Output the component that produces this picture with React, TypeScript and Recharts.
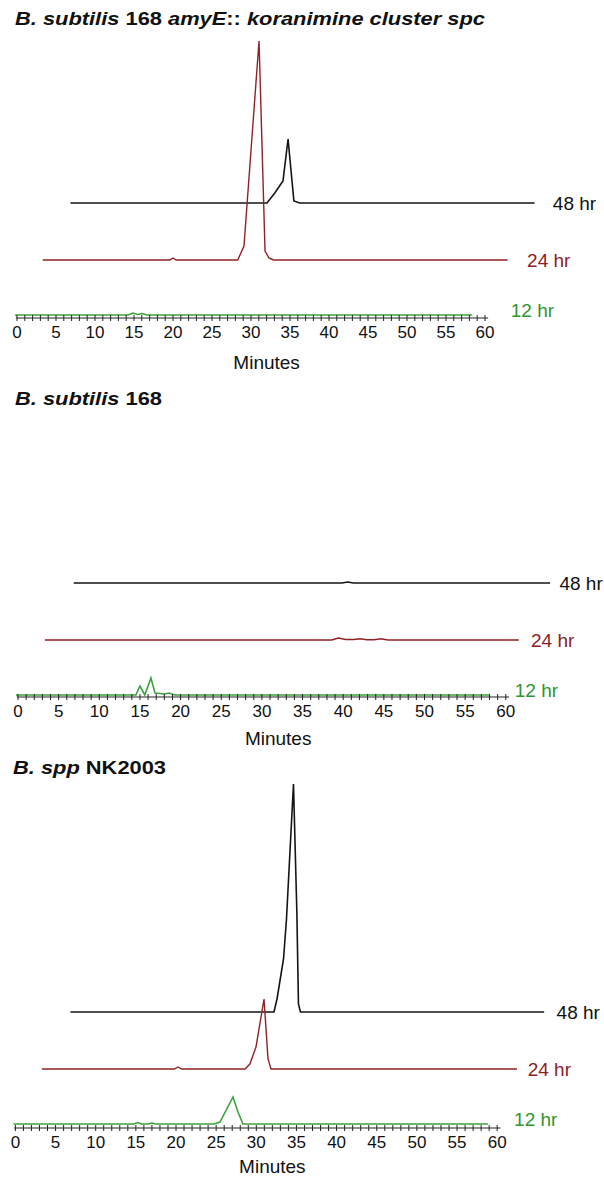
import React from "react";
import { LineChart, Line, XAxis, YAxis, ReferenceDot, ReferenceLine } from "recharts";

const FONT = "Arial, 'Liberation Sans', Helvetica, sans-serif";
const PAGE_W = 604;
const PAGE_H = 1177;

// ---- traces: retention time (min) and detector signal (a.u.) ----

// B. subtilis 168 amyE::koranimine cluster spc
const KC_12_T = [0, 14.5, 15.1, 15.7, 16.3, 16.9, 58.6];
const KC_12_S = [0, 0, 2, 0.5, 1.5, 0, 0];
const KC_24_T = [0, 16.3, 16.7, 17.1, 25.0, 25.8, 27.73, 28.5, 29.0, 29.6, 59.6];
const KC_24_S = [0, 0, 2, 0, 0, 14, 219, 9, 2, 0, 0];
const KC_48_T = [0, 25.2, 26.2, 27.25, 27.9, 28.65, 29.4, 59.5];
const KC_48_S = [0, 0, 10, 22, 64, 2, 0, 0];

// B. subtilis 168
const WT_12_T = [0, 14.75, 15.25, 15.85, 16.6, 17.1, 18.3, 18.85, 19.5, 58.3];
const WT_12_S = [0, 0, 9, 0, 17, 2, 1, 2, 0, 0];
const WT_24_T = [0, 35.3, 36.1, 37.0, 38.0, 38.8, 39.6, 40.5, 41.35, 42.2, 58.3];
const WT_24_S = [0, 0, 2, 0.5, 0.5, 1.2, 0.3, 0.3, 1.2, 0, 0];
const WT_48_T = [0, 33.0, 33.7, 34.4, 58.6];
const WT_48_S = [0, 0, 1, 0, 0];

// B. spp NK2003
const NK_12_T = [0, 15.0, 15.5, 16.0, 16.8, 17.25, 17.7, 24.98, 25.73, 27.35, 27.97, 28.59, 59.1];
const NK_12_S = [0, 0, 1.5, 0, 0, 1, 0, 0, 2, 27, 12, 0, 0];
const NK_24_T = [0, 16.5, 16.95, 17.4, 25.3, 25.9, 26.66, 27.66, 28.16, 28.53, 59.16];
const NK_24_S = [0, 0, 2, 0, 0, 5, 22, 70, 10, 0, 0];
const NK_48_T = [0, 25.35, 25.73, 26.54, 26.91, 27.78, 28.2, 28.4, 28.65, 59.0];
const NK_48_S = [0, 0, 13, 53, 93, 228, 100, 8, 0, 0];

// stacked-plot offsets, order: 12 hr, 24 hr, 48 hr
const TRACE_NAMES = ["12 hr", "24 hr", "48 hr"];
const X_OFFSETS = [-0.25, 3.3, 6.85];
const Y_OFFSETS = [0, 55, 112];
const LINE_COLORS = ["#3ca23c", "#902226", "#151515"];
const TEXT_COLORS = ["#2f952f", "#8e2024", "#111111"];
const LINE_WIDTHS = [1.6, 1.4, 1.6];

const MINUTE_TICKS = Array.from({ length: 61 }, (_, i) => i);

type PanelCfg = {
  traces: [number[], number[]][];
  plotTop: number;
  axisY: number;
  baseY: number;
  x0: number;
  pxPerMin: number;
  labelX: number[];
  minutesDy: number;
};

const PANELS: PanelCfg[] = [
  {
    traces: [[KC_12_T, KC_12_S], [KC_24_T, KC_24_S], [KC_48_T, KC_48_S]],
    plotTop: 36, axisY: 318, baseY: 315, x0: 17, pxPerMin: 7.8,
    labelX: [63.3, 65.4, 68.7], minutesDy: 41,
  },
  {
    traces: [[WT_12_T, WT_12_S], [WT_24_T, WT_24_S], [WT_48_T, WT_48_S]],
    plotTop: 560, axisY: 697, baseY: 695, x0: 18, pxPerMin: 8.13,
    labelX: [61.1, 63.1, 66.6], minutesDy: 38,
  },
  {
    traces: [[NK_12_T, NK_12_S], [NK_24_T, NK_24_S], [NK_48_T, NK_48_S]],
    plotTop: 780, axisY: 1128, baseY: 1124, x0: 15.4, pxPerMin: 8.03,
    labelX: [62.1, 63.8, 67.4], minutesDy: 35,
  },
];

function MinuteTick(props: any) {
  const { x, y, payload } = props;
  const v = payload.value as number;
  return (
    <g>
      <line x1={x} x2={x} y1={y - 3} y2={y + 3} stroke="#222" strokeWidth={1} />
      {v % 5 === 0 && (
        <text x={x} y={y + 20} textAnchor="middle" fontSize={17} fontFamily={FONT} fill="#111">
          {v}
        </text>
      )}
    </g>
  );
}

const tag = (text: string, color: string, size: number) => (p: any) => (
  <text x={p.viewBox.x} y={p.viewBox.y} dy="0.35em" fill={color} fontSize={size} fontFamily={FONT}>
    {text}
  </text>
);

function Panel({ cfg }: { cfg: PanelCfg }) {
  const plotH = cfg.axisY - cfg.plotTop;
  const axisH = 64;
  const xLo = -cfg.x0 / cfg.pxPerMin;
  const xHi = (PAGE_W - cfg.x0) / cfg.pxPerMin;
  const yLo = cfg.baseY - cfg.axisY;
  const yHi = cfg.baseY - cfg.plotTop;

  const series = cfg.traces.map(([t, s], k) =>
    t.map((time, i) => ({ x: time + X_OFFSETS[k], y: s[i] + Y_OFFSETS[k] }))
  );
  const order = [2, 1, 0];

  return (
    <div style={{ position: "absolute", left: 0, top: cfg.plotTop }}>
      <LineChart width={PAGE_W} height={plotH + axisH} margin={{ top: 0, right: 0, bottom: 0, left: 0 }}>
        <XAxis
          type="number"
          dataKey="x"
          domain={[xLo, xHi]}
          allowDataOverflow
          ticks={MINUTE_TICKS}
          interval={0}
          tick={<MinuteTick />}
          tickSize={0}
          tickMargin={0}
          tickLine={false}
          axisLine={false}
          height={axisH}
        />
        <YAxis type="number" hide domain={[yLo, yHi]} allowDataOverflow />
        <ReferenceLine
          segment={[{ x: -0.15, y: yLo }, { x: 60.4, y: yLo }]}
          stroke="#222"
          strokeWidth={1}
        />
        {order.map((k) => (
          <Line
            key={TRACE_NAMES[k]}
            data={series[k]}
            dataKey="y"
            type="linear"
            stroke={LINE_COLORS[k]}
            strokeWidth={LINE_WIDTHS[k]}
            dot={false}
            activeDot={false}
            isAnimationActive={false}
          />
        ))}
        {order.map((k) => (
          <ReferenceDot
            key={"lbl" + k}
            x={cfg.labelX[k]}
            y={Y_OFFSETS[k] + (k === 0 ? 5 : 0)}
            r={0}
            fill="none"
            stroke="none"
            ifOverflow="visible"
            label={tag(TRACE_NAMES[k], TEXT_COLORS[k], 19)}
          />
        ))}
        <ReferenceDot
          x={32}
          y={yLo}
          r={0}
          fill="none"
          stroke="none"
          ifOverflow="visible"
          label={(p: any) => (
            <text x={p.viewBox.x} y={p.viewBox.y + cfg.minutesDy + 10} textAnchor="middle" fontSize={19} fontFamily={FONT} fill="#111">
              Minutes
            </text>
          )}
        />
      </LineChart>
    </div>
  );
}

const titleStyle: React.CSSProperties = {
  position: "absolute",
  fontFamily: FONT,
  fontWeight: 700,
  fontSize: 19,
  lineHeight: "22px",
  whiteSpace: "nowrap",
  transform: "scaleX(1.15)",
  transformOrigin: "left center",
  color: "#111",
};

export default function App() {
  return (
    <div
      style={{
        position: "absolute",
        left: 0,
        top: 0,
        width: PAGE_W,
        height: PAGE_H,
        background: "#fff",
        overflow: "hidden",
      }}
    >
      <div style={{ ...titleStyle, left: 15, top: 8 }}>
        <i>B. subtilis</i> 168 <i>amyE</i>:: <i>koranimine cluster spc</i>
      </div>
      <div style={{ ...titleStyle, left: 15, top: 388 }}>
        <i>B. subtilis</i> 168
      </div>
      <div style={{ ...titleStyle, left: 13, top: 757 }}>
        <i>B. spp</i> NK2003
      </div>
      {PANELS.map((cfg, i) => (
        <Panel key={i} cfg={cfg} />
      ))}
    </div>
  );
}
